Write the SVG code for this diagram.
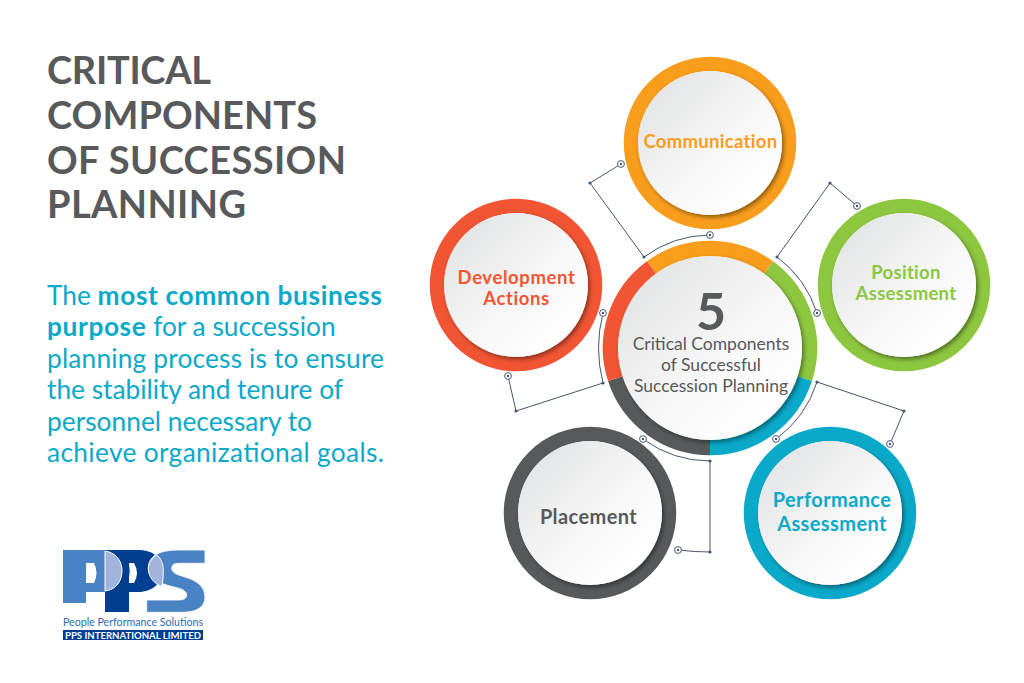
<svg xmlns="http://www.w3.org/2000/svg" width="1024" height="683" viewBox="0 0 1024 683">
<style>
text{font-family:"Lato","Liberation Sans",sans-serif}
.title{font-size:38px;font-weight:700;fill:#58595b}
.body{font-size:26.3px;fill:#0aa9c9}
.body tspan.b{font-weight:700;letter-spacing:.6px}
.lab{font-size:18.5px;font-weight:700;text-anchor:middle;letter-spacing:.3px}
.big{font-size:20px;letter-spacing:.4px}
.mid{font-size:17.5px;fill:#58595b;text-anchor:middle}
.ring{fill:none;stroke-width:14.5}
.seg{fill:none;stroke-width:15.5}
.disc{fill:url(#dg);filter:url(#ds)}
.conn{fill:none;stroke:#47566e;stroke-width:1}
</style>
<defs>
<linearGradient id="dg" x1="0.15" y1="0.15" x2="0.85" y2="0.85"><stop offset="0" stop-color="#e5e6e7"/><stop offset="0.6" stop-color="#f8f8f8"/><stop offset="1" stop-color="#ffffff"/></linearGradient>
<filter id="ds" x="-20%" y="-20%" width="140%" height="140%"><feDropShadow dx="2" dy="2.5" stdDeviation="2.2" flood-color="#000" flood-opacity="0.42"/></filter>
<marker id="mr" markerUnits="userSpaceOnUse" markerWidth="10" markerHeight="10" refX="5" refY="5" overflow="visible"><circle cx="5" cy="5" r="3.4" fill="#fff" stroke="#47566e" stroke-width="1"/><circle cx="5" cy="5" r="1.2" fill="#47566e"/></marker>
<marker id="md" markerUnits="userSpaceOnUse" markerWidth="6" markerHeight="6" refX="3" refY="3"><circle cx="3" cy="3" r="1.6" fill="#47566e"/></marker>
</defs>
<rect width="1024" height="683" fill="#fff"/>
<g id="heading">
<text class="title" x="47" y="84" textLength="164">CRITICAL</text>
<text class="title" x="47" y="129" textLength="270">COMPONENTS</text>
<text class="title" x="47" y="174" textLength="299">OF SUCCESSION</text>
<text class="title" x="47" y="218" textLength="199">PLANNING</text>
</g>
<g id="paragraph">
<text class="body" x="47" y="305">The <tspan class="b">most common business</tspan></text>
<text class="body" x="47" y="336"><tspan class="b">purpose</tspan> for a succession</text>
<text class="body" x="47" y="368" textLength="337">planning process is to ensure</text>
<text class="body" x="47" y="399" textLength="296">the stability and tenure of</text>
<text class="body" x="47" y="431" textLength="265">personnel necessary to</text>
<text class="body" x="47" y="462" textLength="337">achieve organizational goals.</text>
</g>
<g id="connectors">
<path class="conn" marker-start="url(#mr)" marker-mid="url(#md)" marker-end="url(#mr)" d="M621 164L590 183L644 257A113 113 0 0 1 710 235"/>
<path class="conn" marker-start="url(#mr)" marker-mid="url(#md)" marker-end="url(#mr)" d="M857 206L830 183L777 257A113 113 0 0 1 817 313"/>
<path class="conn" marker-start="url(#mr)" marker-mid="url(#md)" marker-end="url(#mr)" d="M890 444L904 411L817 382A113 113 0 0 1 776 439"/>
<path class="conn" marker-start="url(#mr)" marker-mid="url(#md)" marker-end="url(#mr)" d="M643 439A113 113 0 0 0 710 461L710 552Q695 552 678 550"/>
<path class="conn" marker-start="url(#mr)" marker-mid="url(#md)" marker-end="url(#mr)" d="M508 376L516 411L603 383Q594 348 603 313"/>
</g>
<g id="node-communication">
<circle class="ring" cx="710" cy="143" r="79" stroke="#f99d1c"/>
<circle class="disc" cx="710" cy="143" r="72"/>
<text class="lab" x="710.500" y="148" fill="#f99d1c">Communication</text>
</g>
<g id="node-development">
<circle class="ring" cx="516" cy="285" r="79" stroke="#f15533"/>
<circle class="disc" cx="516" cy="285" r="72"/>
<text class="lab" x="516.500" y="284" fill="#f15533" style="letter-spacing:.6px">Development</text>
<text class="lab" x="516.500" y="305" fill="#f15533" style="letter-spacing:.6px">Actions</text>
</g>
<g id="node-position">
<circle class="ring" cx="904" cy="285" r="79" stroke="#8dc63f"/>
<circle class="disc" cx="904" cy="285" r="72"/>
<text class="lab" x="906" y="279" fill="#8dc63f">Position</text>
<text class="lab" x="906" y="300" fill="#8dc63f">Assessment</text>
</g>
<g id="node-placement">
<circle class="ring" cx="590" cy="513" r="79" stroke="#58595b"/>
<circle class="disc" cx="590" cy="513" r="72"/>
<text class="lab big" x="588.500" y="524" fill="#58595b">Placement</text>
</g>
<g id="node-performance">
<circle class="ring" cx="830" cy="513" r="79" stroke="#0aa9c9"/>
<circle class="disc" cx="830" cy="513" r="72"/>
<text class="lab big" x="832" y="507" fill="#0aa9c9">Performance</text>
<text class="lab big" x="832" y="531" fill="#0aa9c9">Assessment</text>
</g>
<g id="node-center">
<path class="seg" stroke="#f99d1c" d="M651.500 267.500A99.500 99.500 0 0 1 768.500 267.500"/>
<path class="seg" stroke="#8dc63f" d="M768.500 267.500A99.500 99.500 0 0 1 804.600 378.700"/>
<path class="seg" stroke="#0aa9c9" d="M804.600 378.700A99.500 99.500 0 0 1 710 447.500"/>
<path class="seg" stroke="#58595b" d="M710 447.500A99.500 99.500 0 0 1 615.400 378.700"/>
<path class="seg" stroke="#f15533" d="M615.400 378.700A99.500 99.500 0 0 1 651.500 267.500"/>
<circle class="disc" cx="710" cy="348" r="92"/>
<text x="711" y="330" text-anchor="middle" style="font-size:52px;font-weight:700" fill="#58595b">5</text>
<text class="mid" x="711" y="350">Critical Components</text>
<text class="mid" x="711" y="371">of Successful</text>
<text class="mid" x="711" y="392">Succession Planning</text>
</g>
<g id="logo">
<path fill="#4a83c4" fill-rule="evenodd" d="M63 550H104A26 21 0 0 1 104 592H86V603H63ZM86 563V583H94Q99 573 94 563Z"/>
<path fill="#003f8f" fill-rule="evenodd" d="M105 550H138C155 550 163 560 163 570C163 582 153 592 138 592H129V612H105ZM129 563V583H134Q140 573 134 563Z"/>
<path fill="#a0b4dd" stroke="#fff" stroke-width="1" d="M105 551C118 553 122 563 122 571C122 582 115 590 105 591Z"/>
<path fill="#4a83c4" stroke="#fff" stroke-width="0.8" d="M205 550V563.300H178.300Q171.700 563.300 171.700 568.300Q171.700 573.300 181.700 576Q205 581.700 205 596.700Q205 612.300 181.700 612.300H146.700V600H178.300Q186.700 600 186.700 595Q186.700 590 176.700 587.700Q148.300 581.700 148.300 568.300Q148.300 550 178.300 550Z"/>
<path fill="#a0b4dd" stroke="#fff" stroke-width="1" d="M156.700 555C161 558 163.300 564 163.300 570C163.300 576 162.800 582 161.700 586.700C153 583 148.300 576 148.300 568.300C148.300 563 152 558 156.700 555Z"/>
<text x="63" y="626" style="font-size:10.600px" fill="#2a6cb0" textLength="140" lengthAdjust="spacingAndGlyphs">People Performance Solutions</text>
<rect x="63" y="630" width="140" height="10" fill="#003f8f"/>
<text x="65" y="638.600" style="font-size:9.500px;font-weight:700" fill="#fff" textLength="136" lengthAdjust="spacingAndGlyphs">PPS INTERNATIONAL LIMITED</text>
</g>
</svg>
